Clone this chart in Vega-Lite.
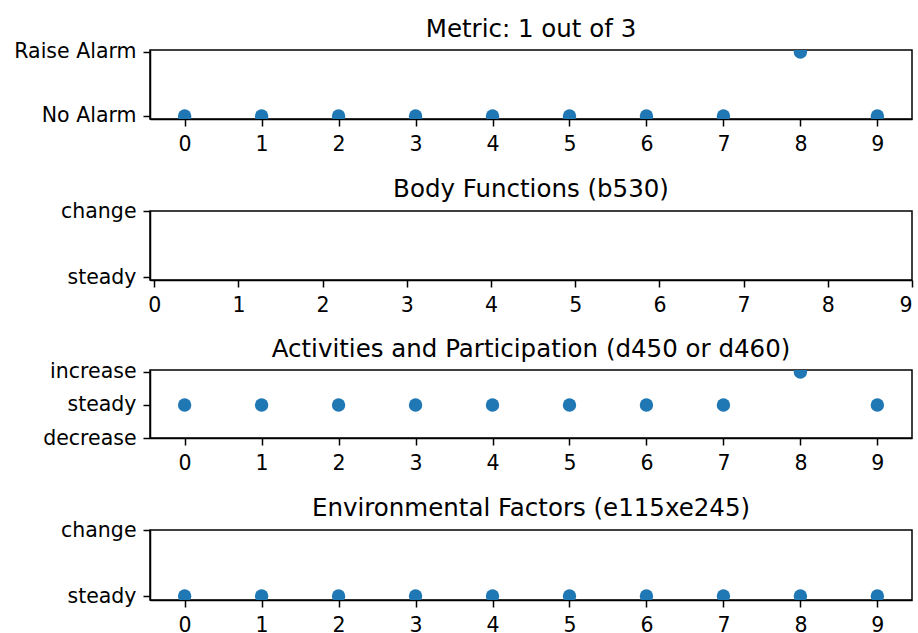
{
  "$schema": "https://vega.github.io/schema/vega-lite/v6.json",
  "padding": {"left": 13, "top": 16, "right": 5, "bottom": 0},
  "background": "white",
  "spacing": 19,
  "config": {
    "font": "DejaVu Sans",
    "view": {"stroke": "black", "strokeWidth": 1.5},
    "axis": {
      "labelFontSize": 20.5, "labelColor": "black", "labelFont": "DejaVu Sans",
      "domainColor": "black", "domainWidth": 1.5, "tickColor": "black", "tickWidth": 1.5,
      "tickSize": 7, "grid": false, "title": null
    },
    "axisX": {"labelPadding": 8},
    "axisY": {"labelPadding": 7},
    "title": {"fontSize": 24.5, "fontWeight": "normal", "color": "black", "font": "DejaVu Sans", "offset": -1, "anchor": "middle"}
  },
  "vconcat": [
    {
      "title": "Metric: 1 out of 3",
      "width": 762, "height": 69,
      "data": {"values": [
        {"t": 0, "v": 0}, {"t": 1, "v": 0}, {"t": 2, "v": 0}, {"t": 3, "v": 0}, {"t": 4, "v": 0},
        {"t": 5, "v": 0}, {"t": 6, "v": 0}, {"t": 7, "v": 0}, {"t": 8, "v": 1}, {"t": 9, "v": 0}
      ]},
      "mark": {"type": "point", "filled": true, "size": 180, "color": "#1f77b4", "opacity": 1, "clip": true},
      "encoding": {
        "x": {"field": "t", "type": "quantitative", "scale": {"domain": [-0.45, 9.45], "nice": false, "zero": false},
              "axis": {"values": [0,1,2,3,4,5,6,7,8,9], "format": "d"}},
        "y": {"field": "v", "type": "quantitative", "scale": {"domain": [-0.047, 1.03], "nice": false, "zero": false},
              "axis": {"values": [0, 1], "labelExpr": "datum.value == 1 ? 'Raise Alarm' : 'No Alarm'"}}
      }
    },
    {
      "title": "Body Functions (b530)",
      "width": 762, "height": 69,
      "data": {"values": []},
      "mark": {"type": "point", "filled": true, "size": 180, "color": "#1f77b4", "clip": true},
      "encoding": {
        "x": {"field": "t", "type": "quantitative", "scale": {"domain": [-0.05, 9], "nice": false, "zero": false},
              "axis": {"values": [0,1,2,3,4,5,6,7,8,9], "format": "d"}},
        "y": {"field": "v", "type": "quantitative", "scale": {"domain": [-0.045, 1], "nice": false, "zero": false},
              "axis": {"values": [0, 1], "labelExpr": "datum.value == 1 ? 'change' : 'steady'"}}
      }
    },
    {
      "title": "Activities and Participation (d450 or d460)",
      "width": 762, "height": 68,
      "data": {"values": [
        {"t": 0, "v": 0}, {"t": 1, "v": 0}, {"t": 2, "v": 0}, {"t": 3, "v": 0}, {"t": 4, "v": 0},
        {"t": 5, "v": 0}, {"t": 6, "v": 0}, {"t": 7, "v": 0}, {"t": 8, "v": 1}, {"t": 9, "v": 0}
      ]},
      "mark": {"type": "point", "filled": true, "size": 180, "color": "#1f77b4", "opacity": 1, "clip": true},
      "encoding": {
        "x": {"field": "t", "type": "quantitative", "scale": {"domain": [-0.45, 9.45], "nice": false, "zero": false},
              "axis": {"values": [0,1,2,3,4,5,6,7,8,9], "format": "d"}},
        "y": {"field": "v", "type": "quantitative", "scale": {"domain": [-1, 1.06], "nice": false, "zero": false},
              "axis": {"values": [-1, 0, 1], "labelExpr": "datum.value == 1 ? 'increase' : (datum.value == 0 ? 'steady' : 'decrease')"}}
      }
    },
    {
      "title": "Environmental Factors (e115xe245)",
      "width": 762, "height": 70,
      "data": {"values": [
        {"t": 0, "v": 0}, {"t": 1, "v": 0}, {"t": 2, "v": 0}, {"t": 3, "v": 0}, {"t": 4, "v": 0},
        {"t": 5, "v": 0}, {"t": 6, "v": 0}, {"t": 7, "v": 0}, {"t": 8, "v": 0}, {"t": 9, "v": 0}
      ]},
      "mark": {"type": "point", "filled": true, "size": 180, "color": "#1f77b4", "opacity": 1, "clip": true},
      "encoding": {
        "x": {"field": "t", "type": "quantitative", "scale": {"domain": [-0.45, 9.45], "nice": false, "zero": false},
              "axis": {"values": [0,1,2,3,4,5,6,7,8,9], "format": "d"}},
        "y": {"field": "v", "type": "quantitative", "scale": {"domain": [-0.06, 1], "nice": false, "zero": false},
              "axis": {"values": [0, 1], "labelExpr": "datum.value == 1 ? 'change' : 'steady'"}}
      }
    }
  ]
}
